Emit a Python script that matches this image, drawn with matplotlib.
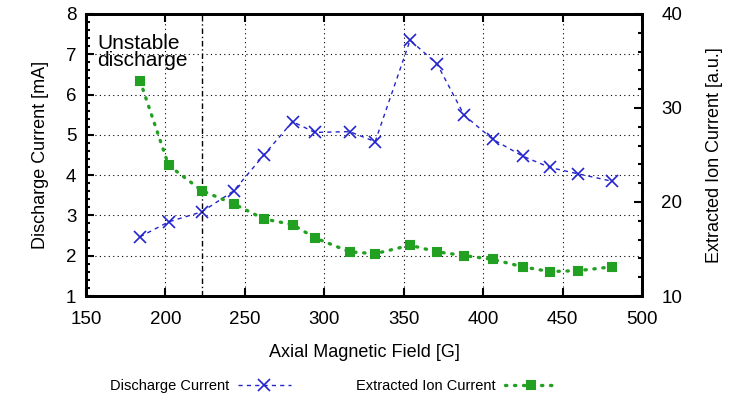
import matplotlib.pyplot as plt
from matplotlib.ticker import MultipleLocator

plt.rcParams['font.family'] = ['Liberation Sans', 'DejaVu Sans']

# %% Dane
pole = [184, 202, 223, 243, 262, 280, 294, 316, 332, 354, 371, 388, 406, 425, 442, 460, 481]
prad_wyladowania = [2.47, 2.84, 3.09, 3.61, 4.50, 5.33, 5.06, 5.08, 4.83, 7.35, 6.76,
                    5.49, 4.89, 4.47, 4.19, 4.03, 3.85]
prad_jonow = [32.9, 23.9, 21.2, 19.8, 18.2, 17.6, 16.2, 14.7, 14.5, 15.4, 14.7,
              14.3, 13.9, 13.1, 12.6, 12.7, 13.1]
granica = 223

# %% Wykres
fig = plt.figure(figsize=(7.3, 4.03), dpi=100)
ax = fig.add_axes([0.1178, 0.2655, 0.7617, 0.6998])
ax2 = ax.twinx()

niebieski = '#2424cc'
zielony = '#22a022'

l1, = ax.plot(pole, prad_wyladowania, color=niebieski, ls=(0, (3, 3)), lw=1,
              marker='x', ms=9, mew=1.2, label='Discharge Current')
l2, = ax2.plot(pole, prad_jonow, color=zielony, ls=(0, (0.4, 2.3)), lw=2.4,
               marker='s', ms=6, mew=1.5, mfc=zielony, mec=zielony,
               dash_capstyle='round', label='Extracted Ion Current')

ax.axvline(granica, color='black', lw=1, ls=(0, (4, 2, 1, 2)))
ax.text(157, 7.5, 'Unstable\ndischarge', fontsize=15, va='top', ha='left',
        linespacing=0.85)

ax.set_xlim(150, 500)
ax.set_ylim(1, 8)
ax2.set_ylim(10, 40)
ax.xaxis.set_major_locator(MultipleLocator(50))
ax.yaxis.set_major_locator(MultipleLocator(1))
ax.yaxis.set_minor_locator(MultipleLocator(0.2))
ax2.yaxis.set_major_locator(MultipleLocator(10))
ax2.yaxis.set_minor_locator(MultipleLocator(2))

ax.grid(True, color='black', ls=(0, (1, 3)), lw=0.8)
ax.tick_params(axis='both', which='both', direction='in', labelsize=13.5)
ax.tick_params(axis='x', top=True, length=6, width=1.5, pad=11)
ax.tick_params(axis='y', which='major', length=6, width=1.5, pad=7)
ax.tick_params(axis='y', which='minor', length=3, width=1.5)
ax2.tick_params(axis='y', which='both', direction='in', labelsize=13.5)
ax2.tick_params(axis='y', which='major', length=6, width=1.5, pad=14)
ax2.tick_params(axis='y', which='minor', length=3, width=1.5)
for a in (ax, ax2):
    for s in a.spines.values():
        s.set_linewidth(2)

ax.set_xlabel('Axial Magnetic Field [G]', fontsize=13, labelpad=11)
ax.set_ylabel('Discharge Current [mA]', fontsize=13, labelpad=12)
ax2.set_ylabel('Extracted Ion Current [a.u.]', fontsize=13, labelpad=17)

fig.legend(handles=[l1, l2], loc='center left', bbox_to_anchor=(0.1507, 0.043),
           ncol=2, markerfirst=False, frameon=False, fontsize=10.5,
           handlelength=3.6, columnspacing=4.5, handletextpad=0.6,
           borderpad=0, borderaxespad=0)

fig.savefig('out.png', dpi=100)
